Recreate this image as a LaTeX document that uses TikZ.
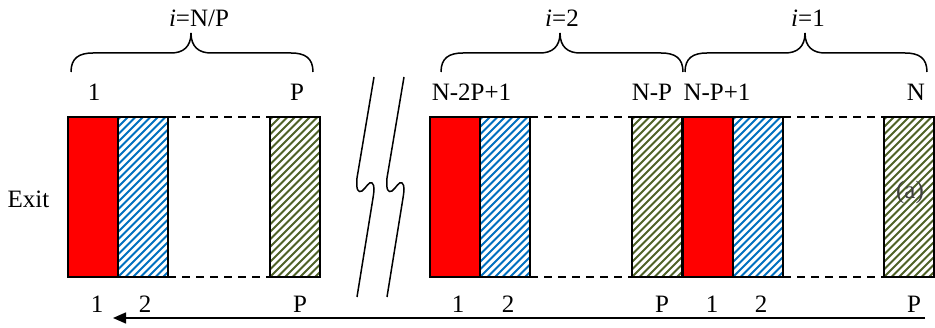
\documentclass[tikz,border=0pt]{standalone}
\usepackage{fontspec}
\setmainfont{Liberation Serif}
\usetikzlibrary{arrows.meta}
\definecolor{hatchblue}{RGB}{0,112,192}
\definecolor{hatchgreen}{RGB}{79,98,40}
\begin{document}
\begin{tikzpicture}[x=1pt,y=-1pt,
  cell/.style={draw=black,line width=1.3pt,minimum width=50pt,minimum height=160pt,inner sep=0pt,outer sep=0pt,anchor=north west},
  hatched/.style={path picture={
      \foreach \k in {-165,-157.5,...,55}
        \draw[#1,line width=2pt] ([xshift=\k pt]path picture bounding box.south west) -- ++(170pt,170pt);}},
  redcell/.style={cell,fill=red},
  bluecell/.style={cell,fill=white,hatched=hatchblue},
  greencell/.style={cell,fill=white,hatched=hatchgreen},
  lbl/.style={font=\fontsize{25}{30}\selectfont,anchor=base,inner sep=0pt},
  gap/.style={dash pattern=on 8pt off 6pt,line width=1.3pt},
  brk/.style={line width=1.5pt},
  bracepath/.style={line width=1.5pt},
  flow/.style={line width=1.5pt,-{Triangle[length=13pt,width=11pt]}}
]
\useasboundingbox (0,0) rectangle (935,328);

% cells, group i=N/P
\node[redcell] (r1) at (68,117) {};
\node[bluecell] (b1) at (118,117) {};
\node[greencell] (g1) at (270,117) {};
\draw[gap] (b1.north east) -- (g1.north west);
\draw[gap] (b1.south east) -- (g1.south west);

% group i=2
\node[redcell] (r2) at (430,117) {};
\node[bluecell] (b2) at (480,117) {};
\node[greencell] (g2) at (632,117) {};
\draw[gap] (b2.north east) -- (g2.north west);
\draw[gap] (b2.south east) -- (g2.south west);

% group i=1
\node[redcell] (r3) at (683,117) {};
\node[bluecell] (b3) at (733,117) {};
\node[greencell] (g3) at (884,117) {};
\draw[gap] (b3.north east) -- (g3.north west);
\draw[gap] (b3.south east) -- (g3.south west);

% braces
\draw[bracepath] (71,72) .. controls (71,58) and (79,53) .. (93,53) -- (171,53)
  .. controls (183,53) and (191,47) .. (191,33) .. controls (191,47) and (199,53) .. (211,53)
  -- (291,53) .. controls (305,53) and (313,58) .. (313,72);
\draw[bracepath] (441,72) .. controls (441,58) and (449,53) .. (463,53) -- (540,53)
  .. controls (552,53) and (560,47) .. (560,33) .. controls (560,47) and (568,53) .. (580,53)
  -- (661,53) .. controls (675,53) and (683,58) .. (683,72);
\draw[bracepath] (685,72) .. controls (685,58) and (693,53) .. (707,53) -- (785,53)
  .. controls (797,53) and (805,47) .. (805,33) .. controls (805,47) and (813,53) .. (825,53)
  -- (905,53) .. controls (919,53) and (927,58) .. (927,72);

% brace labels
\node[lbl] (t1) at (199,27) {\textit{i}=N/P};
\node[lbl] (t2) at (562,27) {\textit{i}=2};
\node[lbl] (t3) at (808,27) {\textit{i}=1};

% top labels
\node[lbl] (u1) at (94,101) {1};
\node[lbl] (u2) at (297,101) {P};
\node[lbl] (u3) at (471.5,101) {N-2P+1};
\node[lbl] (u4) at (652,101) {N-P};
\node[lbl] (u5) at (717,101) {N-P+1};
\node[lbl] (u6) at (916,101) {N};

% bottom labels
\node[lbl] (d1) at (97,313) {1};
\node[lbl] (d2) at (145,313) {2};
\node[lbl] (d3) at (300,313) {P};
\node[lbl] (d4) at (458,313) {1};
\node[lbl] (d5) at (508,313) {2};
\node[lbl] (d6) at (662,313) {P};
\node[lbl] (d7) at (712,313) {1};
\node[lbl] (d8) at (761,313) {2};
\node[lbl] (d9) at (914,313) {P};

% side labels
\node[lbl] (exit) at (28.5,208) {Exit};
\node[lbl,text=black!75] (amark) at (910,199) {(a)};

% break symbol
\foreach \dx in {0,30} {
  \draw[brk,xshift=\dx] (374,77) -- (357,178) .. controls (356,190) and (358,193) .. (362,191)
    .. controls (366,188) and (369,181) .. (372,183) .. controls (375,185) and (374,192) .. (373,198)
    -- (357,297);
}

% flow arrow
\coordinate (aS) at (925,318);
\coordinate (aE) at (113,318);
\draw[flow] (aS) -- (aE);
\end{tikzpicture}
\end{document}
